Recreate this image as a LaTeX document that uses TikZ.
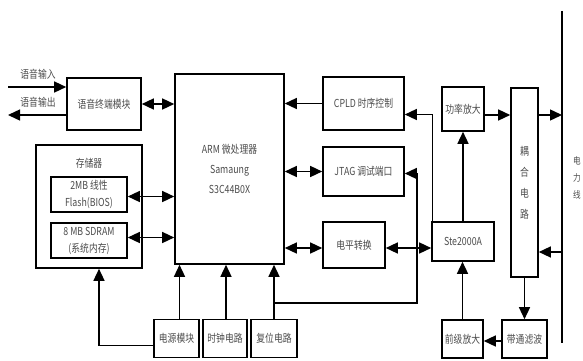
\documentclass[tikz,border=0pt]{standalone}
\usepackage{fontspec}
\setmainfont[FakeStretch=0.8]{Noto Sans CJK SC}
\usetikzlibrary{arrows.meta,calc}
\tikzset{
  blk/.style={draw=black,line width=1.6pt,fill=white,inner sep=0pt,text=black!70,font=\fontsize{11}{17}\selectfont,align=center},
  conn/.style={line width=1.4pt,-{Triangle[length=12pt,width=11pt]}},
  dconn/.style={line width=1.4pt,{Triangle[length=12pt,width=11pt]}-{Triangle[length=12pt,width=11pt]}},
  lbl/.style={text=black!70,font=\fontsize{11}{17}\selectfont,inner sep=0pt,align=center}
}
\begin{document}
\begin{tikzpicture}[x=1pt,y=-1pt]
\useasboundingbox (0,0) rectangle (583,361);
% blocks
\node[blk,minimum width=74pt,minimum height=52pt] (voice) at (104,104) {语音终端模块};
\node[blk,minimum width=109pt,minimum height=190pt,font=\fontsize{11}{20}\selectfont] (arm) at (229.5,169) {ARM 微处理器\\Samaung\\S3C44B0X};
\node[blk,minimum width=106pt,minimum height=123pt] (storage) at (89,206.5) {};
\node[lbl] (storagelbl) at (89,163) {存储器};
\node[blk,minimum width=76pt,minimum height=35pt] (flash) at (89,194.5) {2MB 线性\\Flash(BIOS)};
\node[blk,minimum width=76pt,minimum height=35pt] (sdram) at (89,240.5) {8 MB SDRAM\\(系统内存)};
\node[blk,minimum width=81pt,minimum height=53pt] (cpld) at (363.5,103.5) {CPLD 时序控制};
\node[blk,minimum width=81pt,minimum height=49pt] (jtag) at (363.5,171.5) {JTAG 调试端口};
\node[blk,minimum width=62pt,minimum height=46pt] (level) at (354,245) {电平转换};
\node[blk,minimum width=62pt,minimum height=39pt] (ste) at (463,241.5) {Ste2000A};
\node[blk,minimum width=42pt,minimum height=44pt] (pa) at (463,109) {功率放大};
\node[blk,minimum width=27pt,minimum height=189pt,font=\fontsize{11}{21}\selectfont] (coup) at (524.5,182.5) {耦\\合\\电\\路};
\node[blk,minimum width=45pt,minimum height=38pt] (bpf) at (524.5,339) {带通滤波};
\node[blk,minimum width=41pt,minimum height=38pt] (pre) at (462.5,339) {前级放大};
\node[blk,minimum width=45pt,minimum height=38pt] (power) at (176.5,338.5) {电源模块};
\node[blk,minimum width=44pt,minimum height=38pt] (clock) at (225,338.5) {时钟电路};
\node[blk,minimum width=46pt,minimum height=38pt] (reset) at (274,338.5) {复位电路};
% power line
\coordinate (pltop) at (562,11);
\coordinate (plbot) at (562,343);
\draw[line width=1.7pt] (pltop) -- (plbot);
\node[lbl,font=\fontsize{9.5}{17}\selectfont] (pllbl) at (577,178) {电\\力\\线};
% voice in/out
\coordinate (vin) at (8,87);
\coordinate (vout) at (8,115);
\draw[conn] (vin) -- (vin -| voice.west);
\draw[conn] (vout -| voice.west) -- (vout);
\node[lbl] (vinlbl) at (38,74) {语音输入};
\node[lbl] (voutlbl) at (38,102) {语音输出};
% connections to ARM
\draw[dconn] (voice.east) -- (voice.east -| arm.west);
\draw[dconn] ([yshift=-2pt]flash.east) -- ([yshift=-2pt]flash.east -| arm.west);
\draw[dconn] ([yshift=3pt]sdram.east) -- ([yshift=3pt]sdram.east -| arm.west);
\draw[conn] (cpld.west) -- (cpld.west -| arm.east);
\draw[dconn] (arm.east |- jtag.west) -- (jtag.west);
\draw[dconn] ([yshift=-3pt]arm.east |- level.west) -- ([yshift=-3pt]level.west);
\draw[dconn] ([yshift=-3pt]level.east) -- ([yshift=-3pt]level.east -| ste.west);
% Ste to CPLD
\draw[conn] ([xshift=1pt]ste.north west) |- ([yshift=-11pt]cpld.east);
% transmit path
\draw[conn] (ste.north) -- (pa.south);
\draw[conn] ([yshift=-6pt]pa.east) -- ([yshift=-6pt]pa.east -| coup.west);
\coordinate (txp) at (562,115);
\coordinate (rxp) at (562,252);
\draw[conn] (txp -| coup.east) -- (txp);
\draw[conn] (rxp) -- (rxp -| coup.east);
% receive path
\draw[conn] (coup.south) -- (bpf.north);
\draw[conn] ([yshift=-2pt]bpf.west) -- ([yshift=-2pt]pre.east);
\draw[conn] (pre.north) -- (pre.north |- ste.south);
% bottom modules to ARM
\draw[conn] ([xshift=3pt]power.north) -- ([xshift=3pt]power.north |- arm.south);
\draw[conn] ([xshift=1pt]clock.north) -- ([xshift=1pt]clock.north |- arm.south);
\draw[conn] (reset.north) -- (reset.north |- arm.south);
% reset branch to JTAG
\coordinate (rb) at (274,303);
\coordinate (rj) at (417,303);
\draw[conn] (rb) -- (rj) |- ([yshift=-2pt]jtag.east);
% power to storage
\draw[conn] ([yshift=-7pt]power.west) -| ([xshift=10pt]storage.south);
\end{tikzpicture}
\end{document}
